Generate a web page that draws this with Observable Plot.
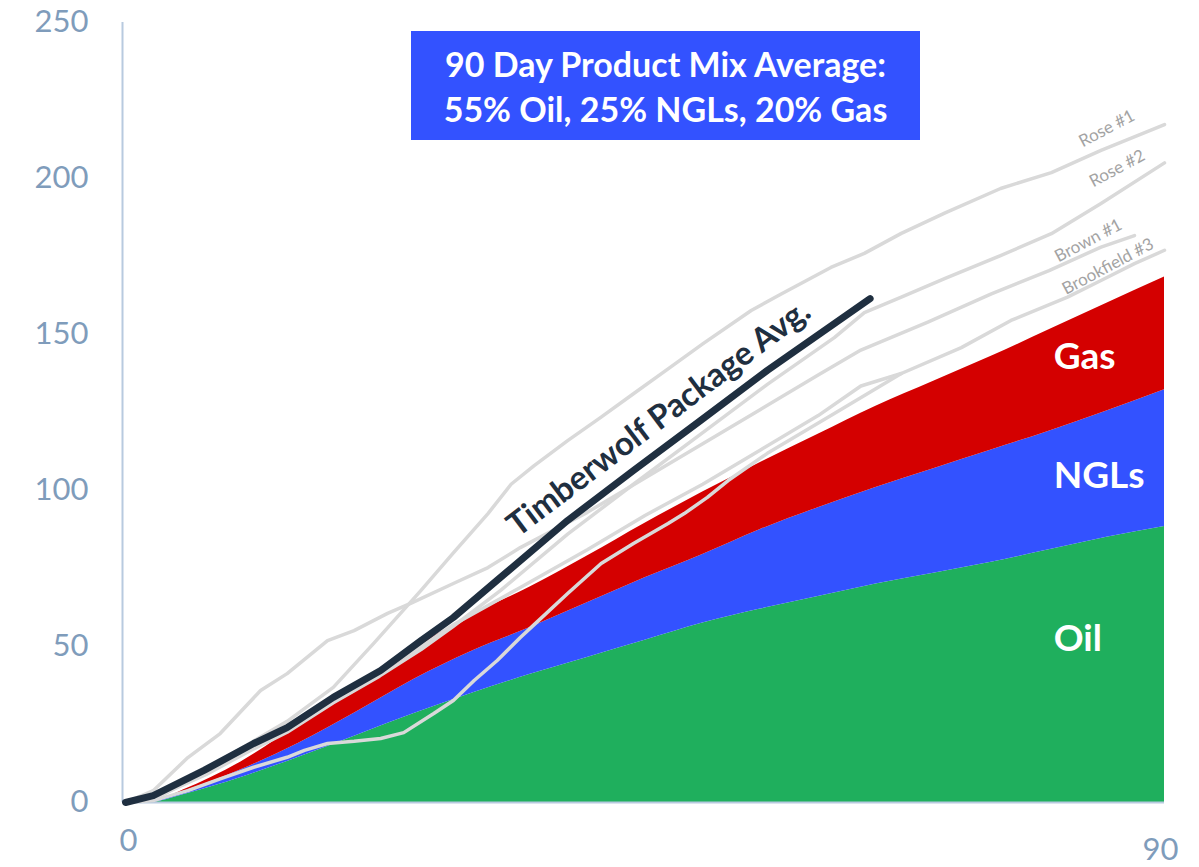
<!DOCTYPE html>
<html><head><meta charset="utf-8">
<script src="https://cdn.jsdelivr.net/npm/d3@7"></script>
<script src="https://cdn.jsdelivr.net/npm/@observablehq/plot@0.6"></script>
<style>
body{margin:0;background:#fff;font-family:Lato,sans-serif;}
#wrap{position:relative;width:1199px;height:867px;overflow:hidden;}
#box{position:absolute;left:411px;top:31px;width:509px;height:109px;background:#3352ff;color:#fff;font-weight:bold;font-size:34px;line-height:45px;text-align:center;display:flex;flex-direction:column;justify-content:center;font-family:Lato,sans-serif;}
</style></head><body>
<div id="wrap"></div>
<script>
// Stacked production components (cumulative, by day)
const days  = [0,2,5,10,15,20,25,30,35,40,45,50,55,60,65,70,75,80,85,90];
const oil   = [0,0,2.5,8,14.5,21.5,28.5,35,41,46.5,52,57.5,62,66,70,73.5,77,81,85,88.5];
const ngls  = [0,0,1,2.5,4.5,7.5,11,13.5,15,17.5,20,22,25.5,28.5,31,33.5,36,38,40.5,43.8];
const gas   = [0,0,0.5,2.5,6,8,10,11.5,13,15,17.5,20,21.5,23.5,26,28,30,32.5,34.5,36.1];
const products = ["Oil","NGLs","Gas"];
const productColors = ["#1faf5d","#3352ff","#d40000"];

// Individual wells [day, cumulative]
const rose1 = [[0,0],[2.5,2],[5,7],[8,13],[11,19.5],[14,26],[18,36.9],[21.5,51],[25.6,68],[28.4,80],[31.4,92.6],[33.4,102],[35.4,108],[38.3,116],[41.2,123.5],[44,131],[47,139],[50,147],[54.2,157.7],[56.8,163],[61.1,171.5],[64,176],[67.2,182.4],[71,189],[75.8,196.8],[80.2,201.9],[84.5,209],[90,217.3]];
const rose2 = [[0,0],[2.5,1.5],[7,9],[11,17],[14,22.5],[18,32],[22,40.5],[25.6,49],[28.4,56.5],[32.5,68],[38.3,86],[44,102],[49.8,118],[55.6,134],[61.4,149],[64,157],[67.2,162],[71,168],[75.8,175.3],[80.2,182.3],[84.5,192],[90,205]];
const brown1 = [[0,0],[2.4,3.8],[5.4,14.4],[8.2,22.1],[11.7,35.9],[14,41.3],[17.5,51.9],[19.8,55.1],[22.7,60.6],[24.7,63.8],[28.4,70.2],[31.4,75.3],[34.2,81.7],[40,93],[45,104],[50,115],[55,126],[60,137],[63.7,145],[69.5,154],[75,163],[80,170.5],[84.5,178],[87.4,181.7]];
const wellE = [[0,0],[3,2],[7,10],[11,18],[15,26],[19.8,36],[22.1,42],[25.6,50],[28.4,57],[34.2,68.9],[40,81],[45,92],[50,102],[55,113],[60,124],[63.7,133.5],[67.2,137.5]];
const brookfield3 = [[0,0],[2.4,0.6],[5.4,3.8],[8.2,7.6],[11.1,11.3],[14,14.5],[15.5,16.7],[17.5,18.9],[19.8,19.6],[22.1,20.5],[24.1,22.4],[26.7,28.5],[28.4,32.7],[30.2,39.1],[32.2,45.5],[34.2,52.9],[35.4,57],[38.3,67],[41.2,76.6],[44,83],[47,89.4],[48.4,92.6],[50.4,97.8],[52.2,103.2],[55.6,111.9],[61.4,124.7],[67.2,137.5],[72.4,145.8],[76.7,154.5],[81.6,162],[84.5,167.3],[87.4,172.7],[90,177]];
const timberwolf = [[0,0],[2.4,2.2],[6.8,10.3],[11.1,18.9],[14,24],[18,33.7],[22.1,42.3],[25.6,51.9],[28.4,59.3],[32.5,72.2],[38.3,90.4],[44,106.4],[49.8,122.4],[55.6,138.5],[61.4,153.5],[64.5,161.5]];

const wellLabels = [
  {name:"Rose #1", day:85.0, value:216.0, angle:-26},
  {name:"Rose #2", day:85.9, value:203.2, angle:-26},
  {name:"Brown #1", day:83.4, value:180.1, angle:-32},
  {name:"Brookfield #3", day:85.1, value:171.8, angle:-28}
];
const areaLabels = [
  {name:"Gas", day:80.4, value:142.6},
  {name:"NGLs", day:80.4, value:104.5},
  {name:"Oil", day:80.4, value:52.2}
];
const avgLabel = [{name:"Timberwolf Package Avg.", day:46.2, value:123.2}];
const yTicks = [0,50,100,150,200,250];
const xTicks = [0,90];

const areaRows = [];
const comp = [oil, ngls, gas];
products.forEach((p,j)=>days.forEach((d,i)=>areaRows.push({day:d, product:p, value:comp[j][i]})));

const wells = {rose1, rose2, brown1, wellE, brookfield3};
const wellRows = [];
Object.entries(wells).forEach(([k,arr])=>arr.forEach(([d,v])=>wellRows.push({well:k, day:d, value:v})));
const twRows = timberwolf.map(([d,v])=>({day:d, value:v}));

const axisColor = "#7f9cbb";
const chart = Plot.plot({
  width:1199, height:867,
  marginLeft:125, marginRight:35, marginTop:22, marginBottom:65,
  style:{fontFamily:"Lato, sans-serif", background:"#fff"},
  x:{domain:[0,90]},
  y:{domain:[0,250]},
  color:{domain:products, range:productColors},
  marks:[
    Plot.areaY(areaRows, {x:"day", y:"value", fill:"product", curve:"monotone-x", order:products}),
    Plot.ruleY([0], {stroke:"#b8cadf", strokeWidth:2}),
    Plot.ruleX([0], {stroke:"#b8cadf", strokeWidth:2, dx:-3}),
    Plot.line(wellRows, {x:"day", y:"value", z:"well", stroke:"#d9d9d9", strokeWidth:3.5, curve:"linear", strokeLinejoin:"round"}),
    Plot.line(twRows, {x:"day", y:"value", stroke:"#1f2f40", strokeWidth:7, strokeLinecap:"round", strokeLinejoin:"round"}),
    Plot.text(wellLabels, {x:"day", y:"value", text:"name", rotate:-28, fill:"#a3a3a3", fontSize:17}),
    Plot.text(avgLabel, {x:"day", y:"value", text:"name", rotate:-37, fill:"#1f2f40", fontSize:33, fontWeight:"bold"}),
    Plot.text(areaLabels, {x:"day", y:"value", text:"name", textAnchor:"start", fill:"#fff", fontSize:37, fontWeight:"bold"}),
    Plot.axisY(yTicks, {tickSize:0, tickPadding:37, fontSize:31, color:axisColor, label:null}),
    Plot.axisX([xTicks[0]], {tickSize:0, tickPadding:26, fontSize:31, color:axisColor, label:null, dx:3}),
    Plot.axisX([xTicks[1]], {tickSize:0, tickPadding:35, fontSize:31, color:axisColor, label:null, dx:-4})
  ]
});
document.getElementById("wrap").appendChild(chart);
const box = document.createElement("div");
box.id = "box";
box.innerHTML = "90 Day Product Mix Average:<br>55% Oil, 25% NGLs, 20% Gas";
document.getElementById("wrap").appendChild(box);
</script>
</body></html>
